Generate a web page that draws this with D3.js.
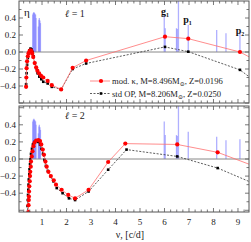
<!DOCTYPE html>
<html>
<head>
<meta charset="utf-8">
<script src="https://cdn.jsdelivr.net/npm/d3@7"></script>
<style>
  body { margin: 0; background: #fff; }
  svg { display: block; font-family: "Liberation Serif", "DejaVu Serif", serif; }
</style>
</head>
<body>
<div id="chart"></div>
<script>
// observed frequencies [c/d] and amplitudes (same in both panels)
const obsFreq = [0.62, 0.645, 0.665, 0.69, 0.71, 0.735, 0.755, 0.85, 0.875, 0.89, 0.915, 0.935, 5.99, 6.03, 6.49, 6.52, 6.57, 6.97, 8.13, 8.51, 9.08];
const obsAmp  = [0.44, 0.46, 0.47, 0.46, 0.45, 0.44, 0.40, 0.30, 0.38, 0.40, 0.37, 0.34, 0.44, 0.28, 0.28, 0.27, 0.80, 0.32, 0.26, 0.22, 0.23];

// l = 1, modified kappa model
const l1ModFreq = [0.35, 0.36, 0.37, 0.39, 0.42, 0.45, 0.49, 0.53, 0.57, 0.60, 0.64, 0.70, 0.76, 0.81, 0.88, 0.96, 1.05, 1.23, 1.40, 1.78, 2.25, 2.80, 6.02, 6.97, 9.08, 10.0];
const l1ModEta  = [-0.41, -0.30, -0.19, -0.11, -0.05, -0.015, 0.01, 0.02, 0.01, -0.02, -0.06, -0.13, -0.18, -0.22, -0.25, -0.28, -0.30, -0.34, -0.39, -0.44, -0.185, -0.10, 0.18, 0.157, 0.0, -0.14];
// l = 1, standard OP model
const l1StdFreq = [0.35, 0.37, 0.39, 0.42, 0.45, 0.49, 0.53, 0.57, 0.61, 0.65, 0.71, 0.76, 0.82, 0.89, 0.97, 1.05, 1.23, 1.40, 1.78, 2.25, 2.80, 6.02, 6.97, 9.08, 10.0];
const l1StdEta  = [-0.38, -0.25, -0.15, -0.07, -0.02, 0.02, 0.04, 0.03, 0.0, -0.05, -0.13, -0.19, -0.25, -0.29, -0.32, -0.35, -0.37, -0.41, -0.44, -0.20, -0.135, 0.06, 0.004, -0.21, -0.41];

// l = 2, modified kappa model
const l2ModFreq = [0.43, 0.44, 0.45, 0.46, 0.465, 0.47, 0.48, 0.50, 0.51, 0.52, 0.54, 0.55, 0.58, 0.61, 0.65, 0.69, 0.76, 0.85, 0.92, 0.97, 1.03, 1.08, 1.14, 1.19, 1.26, 1.36, 1.48, 1.57, 1.80, 2.07, 2.35, 2.90, 3.70, 4.40, 6.52, 8.17, 10.0];
const l2ModEta  = [-0.70, -0.62, -0.54, -0.48, -0.44, -0.38, -0.32, -0.26, -0.20, -0.15, -0.09, -0.03, 0.03, 0.09, 0.15, 0.19, 0.215, 0.22, 0.21, 0.17, 0.11, 0.05, -0.03, -0.09, -0.15, -0.20, -0.25, -0.30, -0.36, -0.42, -0.46, -0.36, -0.035, 0.18, 0.17, 0.078, -0.12];
// l = 2, standard OP model
const l2StdFreq = [0.40, 0.41, 0.42, 0.43, 0.44, 0.45, 0.46, 0.48, 0.49, 0.51, 0.53, 0.55, 0.59, 0.63, 0.69, 0.77, 0.85, 0.92, 0.98, 1.04, 1.10, 1.16, 1.24, 1.34, 1.46, 1.60, 1.84, 2.10, 2.35, 2.90, 3.70, 4.45, 6.52, 8.17, 10.0];
const l2StdEta  = [-0.64, -0.55, -0.48, -0.42, -0.36, -0.30, -0.24, -0.18, -0.12, -0.06, 0.0, 0.06, 0.12, 0.17, 0.20, 0.21, 0.20, 0.17, 0.12, 0.06, -0.01, -0.08, -0.14, -0.20, -0.26, -0.34, -0.40, -0.46, -0.48, -0.38, -0.125, 0.11, 0.03, -0.106, -0.33];

const xTicks = [1, 2, 3, 4, 5, 6, 7, 8, 9];
const yTicks = [-0.4, -0.2, 0.0, 0.2, 0.4];

const W = 251, H = 242;
const left = 19, right = 249;
const redLine = "#ff7070";

const svg = d3.select("#chart").append("svg")
    .attr("width", W).attr("height", H);

const x = d3.scaleLinear().domain([0.06, 9.45]).range([left, right]);

const panels = [
    {id: "p1", top: 1, bottom: 103, dom: [-0.6, 0.6], label: "1", labelY: 17,
     mod: [l1ModFreq, l1ModEta], std: [l1StdFreq, l1StdEta], xLabels: false},
    {id: "p2", top: 106, bottom: 212, dom: [-0.62, 0.62], label: "2", labelY: 119,
     mod: [l2ModFreq, l2ModEta], std: [l2StdFreq, l2StdEta], xLabels: true}
];

panels.forEach(p => {
    const y = d3.scaleLinear().domain(p.dom).range([p.bottom, p.top]);
    const g = svg.append("g");

    g.append("clipPath").attr("id", "clip" + p.id)
        .append("rect")
        .attr("x", left).attr("y", p.top)
        .attr("width", right - left).attr("height", p.bottom - p.top);

    const plot = g.append("g").attr("clip-path", "url(#clip" + p.id + ")");

    // observed spectrum
    plot.selectAll(".bar").data(obsFreq).join("line")
        .attr("x1", d => x(d)).attr("x2", d => x(d))
        .attr("y1", y(0)).attr("y2", (d, i) => y(obsAmp[i]))
        .attr("stroke", "#7b7bff").attr("stroke-opacity", 0.6)
        .attr("stroke-width", 1.3);

    // zero line
    plot.append("line")
        .attr("x1", left).attr("x2", right)
        .attr("y1", y(0)).attr("y2", y(0))
        .attr("stroke", "#888").attr("stroke-width", 1);

    const line = d3.line().x(d => x(d[0])).y(d => y(d[1]));

    const stdPts = p.std[0].map((f, i) => [f, p.std[1][i]]);
    const modPts = p.mod[0].map((f, i) => [f, p.mod[1][i]]);

    plot.append("path").datum(stdPts)
        .attr("d", line).attr("fill", "none")
        .attr("stroke", "#333").attr("stroke-width", 0.8)
        .attr("stroke-dasharray", "2,1.5");
    plot.selectAll(".sq").data(stdPts).join("rect")
        .attr("x", d => x(d[0]) - 1.3).attr("y", d => y(d[1]) - 1.3)
        .attr("width", 2.6).attr("height", 2.6).attr("fill", "#000");

    plot.append("path").datum(modPts)
        .attr("d", line).attr("fill", "none")
        .attr("stroke", redLine).attr("stroke-width", 0.8);
    plot.selectAll(".dot").data(modPts).join("circle")
        .attr("cx", d => x(d[0])).attr("cy", d => y(d[1]))
        .attr("r", 2.1).attr("fill", "#f00");

    // frame
    g.append("rect")
        .attr("x", left).attr("y", p.top)
        .attr("width", right - left).attr("height", p.bottom - p.top)
        .attr("fill", "none").attr("stroke", "#555").attr("stroke-width", 1);

    // x ticks (inside, top and bottom)
    const xMinor = d3.range(0.25, 9.45, 0.25);
    xMinor.forEach(v => {
        const major = Math.abs(v - Math.round(v)) < 1e-6;
        const len = major ? 4 : 2.5;
        g.append("line").attr("x1", x(v)).attr("x2", x(v))
            .attr("y1", p.bottom).attr("y2", p.bottom - len)
            .attr("stroke", "#555").attr("stroke-width", 0.8);
        g.append("line").attr("x1", x(v)).attr("x2", x(v))
            .attr("y1", p.top).attr("y2", p.top + len)
            .attr("stroke", "#555").attr("stroke-width", 0.8);
    });
    // y ticks (inside, left and right)
    const yMinor = d3.range(-0.6, 0.61, 0.1);
    yMinor.forEach(v => {
        if (y(v) < p.top || y(v) > p.bottom) return;
        const major = Math.abs(v * 5 - Math.round(v * 5)) < 1e-6;
        const len = major ? 4 : 2.5;
        g.append("line").attr("x1", left).attr("x2", left + len)
            .attr("y1", y(v)).attr("y2", y(v))
            .attr("stroke", "#555").attr("stroke-width", 0.8);
        g.append("line").attr("x1", right).attr("x2", right - len)
            .attr("y1", y(v)).attr("y2", y(v))
            .attr("stroke", "#555").attr("stroke-width", 0.8);
    });

    g.selectAll(".ylab").data(yTicks).join("text")
        .attr("x", 16).attr("y", d => y(d) + 3)
        .attr("text-anchor", "end").attr("font-size", 9).attr("fill", "#222")
        .text(d => d3.format(".1f")(d));

    if (p.xLabels) {
        g.selectAll(".xlab").data(xTicks).join("text")
            .attr("x", d => x(d)).attr("y", p.bottom + 13)
            .attr("text-anchor", "middle").attr("font-size", 9).attr("fill", "#222")
            .text(d => d);
    }

    const lt = g.append("text").attr("x", 65).attr("y", p.labelY)
        .attr("font-size", 10).attr("fill", "#222");
    lt.append("tspan").attr("font-style", "italic").text("ℓ");
    lt.append("tspan").text(" = " + p.label);
});

// annotations in the top panel
svg.append("text").attr("x", 24).attr("y", 16)
    .attr("font-size", 11).attr("fill", "#111").text("η");

[["g", "1", 165, 15], ["p", "1", 187.5, 23], ["p", "2", 240, 34]].forEach(a => {
    const t = svg.append("text").attr("x", a[2]).attr("y", a[3])
        .attr("text-anchor", "middle").attr("font-size", 10)
        .attr("font-weight", "bold").attr("fill", "#111");
    t.append("tspan").text(a[0]);
    t.append("tspan").attr("font-size", 6).attr("dy", 2).text(a[1]);
});

// legend
const leg = svg.append("g");
leg.append("line").attr("x1", 90).attr("x2", 110).attr("y1", 81).attr("y2", 81)
    .attr("stroke", redLine).attr("stroke-width", 0.8);
leg.append("circle").attr("cx", 101).attr("cy", 81).attr("r", 2.1).attr("fill", "#f00");
leg.append("line").attr("x1", 90).attr("x2", 110).attr("y1", 93.5).attr("y2", 93.5)
    .attr("stroke", "#333").attr("stroke-width", 0.8).attr("stroke-dasharray", "2,1.5");
leg.append("rect").attr("x", 99.7).attr("y", 92.2).attr("width", 2.6).attr("height", 2.6).attr("fill", "#000");

function legText(yy, prefix, mass, z) {
    const t = leg.append("text").attr("x", 112).attr("y", yy)
        .attr("font-size", 8.6).attr("fill", "#222");
    t.append("tspan").text(prefix + ", M=" + mass + "M");
    t.append("tspan").attr("font-size", 6).attr("dy", 2).text("⊙");
    t.append("tspan").attr("dy", -2).text(", Z=" + z);
}
legText(84, "mod. κ", "8.496", "0.0196");
legText(96.5, "std OP", "8.206", "0.0250");

// x axis title
svg.append("text").attr("x", 130).attr("y", 238)
    .attr("text-anchor", "middle").attr("font-size", 10).attr("fill", "#222")
    .text("ν, [c/d]");
</script>
</body>
</html>
